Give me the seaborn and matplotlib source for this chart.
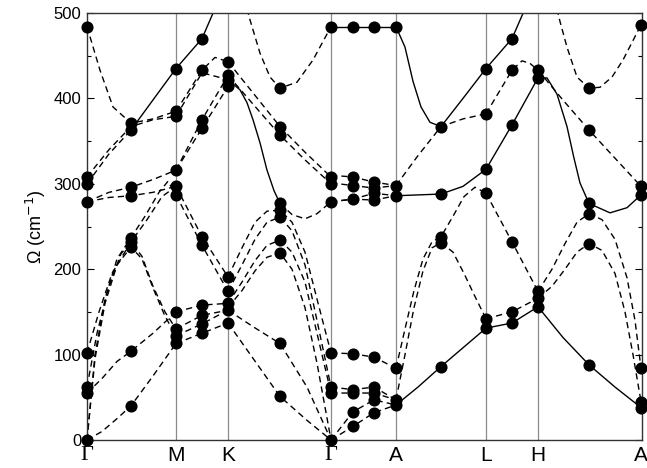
import matplotlib
matplotlib.use("Agg")
import matplotlib.pyplot as plt
import seaborn as sns
import pandas as pd

# high-symmetry points (path coordinate) and labels
sym_pos = [0, 89, 141, 244, 309, 399, 451, 554]
sym_labels = ["Γ", "M", "K", "Γ", "A", "L", "H", "A"]
y_ticks = [0, 100, 200, 300, 400, 500]

# computed frequencies (markers), column by column
mk_pos = [0, 44, 89, 115, 141, 193, 244, 266, 287, 309, 354, 399, 425, 451, 502, 554]
mk_vals = [
    [484, 308, 300, 279, 102, 62, 55, 0],
    [371, 363, 296, 286, 237, 232, 226, 104, 40],
    [435, 385, 379, 316, 297, 287, 150, 130, 122, 113],
    [470, 433, 375, 365, 238, 228, 158, 146, 136, 125],
    [443, 427, 422, 414, 191, 174, 160, 152, 137],
    [412, 367, 357, 277, 269, 261, 234, 219, 113, 51],
    [484, 308, 300, 279, 102, 62, 55, 0],
    [484, 308, 298, 282, 101, 59, 55, 33, 16],
    [484, 302, 295, 289, 281, 97, 62, 55, 47, 32],
    [484, 298, 286, 84, 47, 41],
    [367, 288, 238, 231, 86],
    [435, 382, 317, 289, 142, 131],
    [470, 433, 369, 232, 150, 137],
    [433, 424, 174, 166, 156],
    [412, 363, 277, 265, 230, 88],
    [486, 297, 287, 84, 45, 38],
]

# dispersion branches, segment by segment: (style, x, y)
seg_GM = [
    ("dashed", [0, 13, 26, 44, 66, 89], [484, 433, 390, 371, 376, 385]),
    ("dashed", [0, 22, 44, 66, 89], [308, 340, 367, 375, 379]),
    ("dashed", [0, 22, 44], [300, 335, 363]),
    ("dashed", [0, 22, 44, 66, 89], [279, 290, 296, 305, 316]),
    ("dashed", [0, 22, 44, 66, 89], [279, 284, 286, 290, 297]),
    ("dashed", [0, 8, 18, 30, 44, 58, 72, 81, 89], [0, 100, 165, 212, 237, 262, 290, 303, 287]),
    ("dashed", [0, 12, 25, 44, 60, 75, 89], [102, 150, 195, 232, 258, 285, 297]),
    ("dashed", [0, 10, 22, 34, 44, 55, 66, 78, 89], [62, 125, 180, 218, 232, 215, 180, 150, 130]),
    ("dashed", [0, 8, 18, 30, 44, 55, 66, 78, 89], [0, 95, 160, 205, 226, 212, 178, 145, 122]),
    ("dashed", [0, 15, 30, 44, 66, 89], [55, 72, 92, 104, 125, 150]),
    ("dashed", [0, 15, 30, 44, 66, 89], [0, 10, 25, 40, 75, 113]),
    ("solid", [44, 89, 115, 129], [363, 435, 470, 508]),
]
seg_MK = [
    ("dashed", [89, 115, 128, 141], [385, 433, 448, 443]),
    ("dashed", [89, 115, 141], [379, 430, 422]),
    ("dashed", [89, 115, 141], [316, 375, 427]),
    ("dashed", [89, 115, 141], [316, 365, 414]),
    ("dashed", [89, 115, 141], [297, 238, 191]),
    ("dashed", [89, 115, 141], [287, 228, 174]),
    ("dashed", [89, 115, 141], [150, 158, 160]),
    ("dashed", [89, 115, 141], [130, 146, 152]),
    ("dashed", [89, 115, 141], [122, 136, 152]),
    ("dashed", [89, 115, 141], [113, 125, 137]),
]
seg_KG = [
    ("dashed", [160, 163, 173, 183, 193, 210, 226, 244], [505, 492, 453, 425, 412, 419, 445, 484]),
    ("dashed", [141, 167, 193, 218, 244], [443, 405, 367, 337, 308]),
    ("dashed", [141, 167, 193, 218, 244], [427, 392, 357, 328, 300]),
    ("solid", [141, 147, 153, 160, 166, 173, 180, 187, 193], [416, 416, 410, 395, 375, 348, 316, 292, 277]),
    ("dashed", [193, 205, 218, 230, 244], [277, 264, 259, 265, 279]),
    ("dashed", [141, 155, 168, 180, 193, 205, 218, 230, 244], [191, 225, 255, 268, 269, 255, 220, 165, 102]),
    ("dashed", [141, 155, 168, 180, 193, 205, 218, 230, 244], [174, 205, 235, 255, 261, 245, 205, 140, 62]),
    ("dashed", [141, 155, 168, 180, 193, 205, 218, 230, 244], [160, 185, 210, 228, 234, 220, 185, 125, 55]),
    ("dashed", [141, 155, 168, 180, 193, 205, 218, 230, 244], [155, 175, 198, 214, 219, 200, 155, 90, 0]),
    ("dashed", [141, 167, 193, 220, 244], [152, 132, 113, 62, 0]),
    ("dashed", [141, 167, 193, 220, 244], [137, 94, 51, 23, 0]),
]
seg_GA = [
    ("solid", [244, 266, 287, 309], [484, 484, 484, 484]),
    ("dashed", [244, 266, 287, 309], [310, 308, 302, 298]),
    ("dashed", [244, 266, 287, 309], [301, 298, 295, 298]),
    ("dashed", [244, 266, 287, 309], [279, 282, 289, 286]),
    ("dashed", [244, 266, 287, 309], [279, 282, 281, 286]),
    ("dashed", [244, 266, 287, 309], [102, 101, 97, 84]),
    ("dashed", [244, 266, 287, 309], [62, 59, 62, 47]),
    ("dashed", [244, 266, 287, 309], [55, 55, 55, 47]),
    ("dashed", [244, 266, 287, 309], [0, 33, 47, 41]),
    ("dashed", [244, 266, 287, 309], [0, 16, 32, 41]),
]
seg_AL = [
    ("solid", [309, 318, 326, 334, 343, 354, 376, 399], [484, 460, 420, 390, 372, 367, 400, 435]),
    ("dashed", [309, 331, 354, 376, 399], [298, 333, 367, 376, 382]),
    ("solid", [309, 331, 354, 376, 399], [286, 287, 288, 297, 317]),
    ("dashed", [309, 318, 327, 336, 345, 354, 366, 377, 388, 399], [84, 130, 175, 212, 232, 238, 262, 285, 296, 289]),
    ("dashed", [309, 318, 327, 336, 345, 354, 366, 377, 388, 399], [47, 100, 155, 198, 225, 231, 220, 195, 168, 142]),
    ("solid", [309, 331, 354, 376, 399], [41, 62, 86, 108, 131]),
]
seg_LH = [
    ("solid", [399, 425, 438], [435, 470, 505]),
    ("dashed", [399, 425, 435, 443, 451], [382, 433, 444, 441, 433]),
    ("solid", [399, 425, 451], [317, 369, 424]),
    ("dashed", [399, 425, 451], [289, 232, 174]),
    ("dashed", [399, 425, 451], [142, 150, 166]),
    ("solid", [399, 425, 451], [131, 137, 156]),
]
seg_HA = [
    ("dashed", [470, 473, 480, 490, 502, 513, 525, 536, 554], [505, 490, 460, 425, 412, 413, 425, 445, 486]),
    ("dashed", [451, 476, 502, 528, 554], [433, 398, 363, 330, 297]),
    ("solid", [451, 460, 470, 480, 487, 493, 502, 523, 540, 554], [424, 424, 405, 367, 330, 301, 277, 266, 272, 287]),
    ("dashed", [451, 465, 478, 490, 502, 515, 528, 540, 548, 554], [174, 200, 230, 255, 265, 258, 235, 190, 140, 84]),
    ("dashed", [451, 465, 478, 490, 502, 515, 528, 538, 546, 554], [166, 180, 200, 220, 230, 222, 195, 150, 100, 45]),
    ("solid", [451, 476, 502, 528, 554], [156, 120, 88, 62, 38]),
]

# ---- build tables ----
rows = []
bid = 0
for seg in (seg_GM, seg_MK, seg_KG, seg_GA, seg_AL, seg_LH, seg_HA):
    for kind, xs, ys in seg:
        for xv, yv in zip(xs, ys):
            rows.append({"x": xv, "y": yv, "branch": bid, "kind": kind})
        bid += 1
lines_df = pd.DataFrame(rows)

mrows = []
for xp, vals in zip(mk_pos, mk_vals):
    for v in vals:
        mrows.append({"x": xp, "y": v})
mk_df = pd.DataFrame(mrows)

sns.set_style("white")
plt.rcParams["font.family"] = ["Liberation Sans", "DejaVu Sans"]
plt.rcParams["text.color"] = "black"
plt.rcParams["axes.labelcolor"] = "black"
plt.rcParams["xtick.color"] = "black"
plt.rcParams["ytick.color"] = "black"

fig = plt.figure(figsize=(6.47, 4.68), dpi=100)
ax = fig.add_axes([87 / 647, 1 - 440 / 468, (642 - 87) / 647, (440 - 13) / 468])

for xp in sym_pos[1:-1]:
    ax.axvline(xp, color="#8a8a8a", lw=0.9, zorder=1)

sns.lineplot(data=lines_df, x="x", y="y", units="branch", estimator=None, sort=False,
             style="kind", dashes={"solid": "", "dashed": (4.5, 3)},
             color="black", linewidth=1.0, legend=False, ax=ax, zorder=2)

sns.scatterplot(data=mk_df, x="x", y="y", color="black", s=76, edgecolor="black",
                linewidth=0, ax=ax, zorder=3, clip_on=False, legend=False)

ax.set_xlim(0, 555)
ax.set_ylim(0, 500)
ax.set_xticks(sym_pos)
ax.set_xticklabels(sym_labels)
for lab, txt in zip(ax.get_xticklabels(), sym_labels):
    if txt == "Γ":
        lab.set_family(["Liberation Serif", "DejaVu Serif"])
        lab.set_fontsize(16)
    else:
        lab.set_fontsize(15)
    lab.set_color("black")
ax.set_yticks(y_ticks)
ax.set_yticklabels([str(v) for v in y_ticks], fontsize=12, color="black")
ax.set_yticks(range(50, 500, 100), minor=True)
ax.tick_params(axis="x", length=0, pad=4.5, colors="black")
ax.tick_params(axis="y", which="both", direction="in", right=True, left=True, pad=4, colors="black")
ax.tick_params(axis="y", which="major", length=5, width=0.8)
ax.tick_params(axis="y", which="minor", length=3, width=0.8)
ax.xaxis.set_zorder(5)
ax.set_xlabel("")
ax.set_ylabel("Ω (cm$^{-1}$)", fontsize=13, labelpad=4, color="black")
for sp in ax.spines.values():
    sp.set_color("#333333")
    sp.set_linewidth(1.0)

fig.savefig("out.png", dpi=100)
